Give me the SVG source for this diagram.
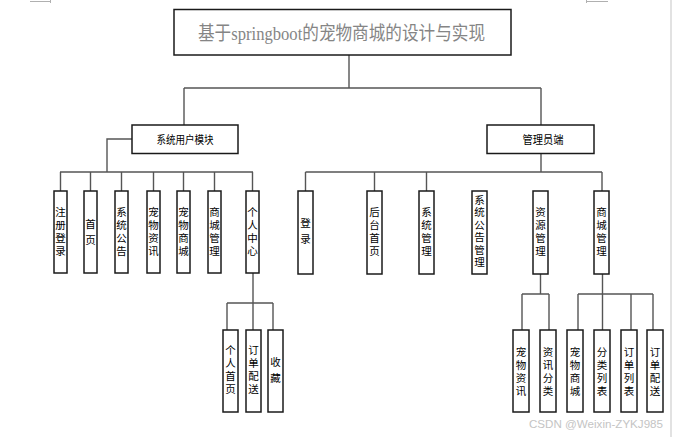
<svg xmlns="http://www.w3.org/2000/svg" width="673" height="437" viewBox="0 0 673 437">
<style>
.box{fill:#fff;stroke:#1a1a1a;stroke-width:1.5}
.ln{fill:none;stroke:#555;stroke-width:1.4}
.t{font-family:"Noto Sans CJK SC","Noto Sans",sans-serif;font-size:11px;fill:#000;text-anchor:middle}
.v{font-family:"Noto Sans CJK SC","Noto Sans",sans-serif;font-size:10.5px;fill:#000;text-anchor:middle;writing-mode:vertical-rl;letter-spacing:2.5px}
.v2{letter-spacing:5.5px}
.v6{letter-spacing:2px}
.title{font-family:"Liberation Serif","Noto Sans CJK SC",serif;font-size:19px;fill:#858585;text-anchor:middle}
.wm{font-family:"Liberation Sans","Noto Sans",sans-serif;font-size:11.5px;fill:#c4c4c4}
.mark{stroke:#b0b0b0;stroke-width:1;fill:none}
</style>
<rect width="673" height="437" fill="#fff"/>
<g id="page-marks">
<path class="mark" d="M30 1.5H51M50.5 0V3M586 1.5H608M586.5 0V3"/>
<line x1="671" y1="0" x2="671" y2="437" stroke="#e2e2e2" stroke-width="2"/>
</g>
<g id="connectors">
<path class="ln" d="M349 55V88M184 88H541M184 88V125M541 88V125"/>
<path class="ln" d="M132 139H107V172M60 172H253M60.5 172V191M90.5 172V191M121.5 172V191M153.5 172V191M183.5 172V191M214.5 172V191M252.5 172V191"/>
<path class="ln" d="M541 153V172M305.5 172H602M305.5 172V191M374.5 172V191M426.5 172V191M602 172V191"/>
<path class="ln" d="M253 273V330M227 303H273M227 303V330M273 303V330"/>
<path class="ln" d="M540.5 274V294M522 294H549M522 294V330M549 294V330"/>
<path class="ln" d="M602.5 274V330M578 294H653M578 294V330M631 294V330M653 294V330"/>
</g>
<g id="root">
<rect class="box" x="174" y="9.5" width="337" height="45.5"/>
<text class="title" x="341.5" y="39.5" textLength="287" lengthAdjust="spacingAndGlyphs">基于springboot的宠物商城的设计与实现</text>
</g>
<g id="user-module">
<rect class="box" x="132" y="125" width="106" height="28.5"/>
<text class="t" x="185" y="143.5" textLength="57" lengthAdjust="spacingAndGlyphs">系统用户模块</text>
</g>
<g id="admin">
<rect class="box" x="487" y="125" width="107" height="28.5"/>
<text class="t" x="543" y="143.5" textLength="41" lengthAdjust="spacingAndGlyphs">管理员端</text>
</g>
<g id="u-register"><rect class="box" x="54" y="191" width="13" height="82"/><text class="v" x="60.5" y="233">注册登录</text></g>
<g id="u-home"><rect class="box" x="84" y="191" width="13" height="82"/><text class="v v2" x="90.5" y="235">首页</text></g>
<g id="u-notice"><rect class="box" x="115" y="191" width="13" height="82"/><text class="v" x="121.5" y="233">系统公告</text></g>
<g id="u-petinfo"><rect class="box" x="147" y="191" width="13" height="82"/><text class="v" x="153.5" y="233">宠物资讯</text></g>
<g id="u-petmall"><rect class="box" x="177" y="191" width="13" height="82"/><text class="v" x="183.5" y="233">宠物商城</text></g>
<g id="u-mallmgr"><rect class="box" x="208" y="191" width="13" height="82"/><text class="v" x="214.5" y="233">商城管理</text></g>
<g id="u-center"><rect class="box" x="246" y="191" width="13" height="82"/><text class="v" x="252.5" y="233">个人中心</text></g>
<g id="c-home"><rect class="box" x="223" y="330" width="15" height="82"/><text class="v" x="230.5" y="370.5">个人首页</text></g>
<g id="c-order"><rect class="box" x="246" y="330" width="15" height="82"/><text class="v" x="253.5" y="370.5">订单配送</text></g>
<g id="c-fav"><rect class="box" x="268" y="330" width="15" height="82"/><text class="v v2" x="275.5" y="373">收藏</text></g>
<g id="a-login"><rect class="box" x="298" y="191" width="15" height="83"/><text class="v v2" x="305.5" y="234">登录</text></g>
<g id="a-home"><rect class="box" x="367" y="191" width="15" height="83"/><text class="v" x="374.5" y="233">后台首页</text></g>
<g id="a-sys"><rect class="box" x="419" y="191" width="15" height="83"/><text class="v" x="426.5" y="233">系统管理</text></g>
<g id="a-notice"><rect class="box" x="472" y="191" width="15" height="83"/><text class="v v6" x="479.5" y="232">系统公告管理</text></g>
<g id="a-resource"><rect class="box" x="533" y="191" width="15" height="83"/><text class="v" x="540.5" y="233">资源管理</text></g>
<g id="a-mall"><rect class="box" x="594" y="191" width="15" height="83"/><text class="v" x="601.5" y="233">商城管理</text></g>
<g id="r-petinfo"><rect class="box" x="513" y="330" width="16" height="82"/><text class="v" x="521" y="372.5">宠物资讯</text></g>
<g id="r-infocat"><rect class="box" x="540" y="330" width="16" height="82"/><text class="v" x="548" y="372.5">资讯分类</text></g>
<g id="m-petmall"><rect class="box" x="567" y="330" width="16" height="82"/><text class="v" x="575" y="372.5">宠物商城</text></g>
<g id="m-catlist"><rect class="box" x="594" y="330" width="16" height="82"/><text class="v" x="602" y="372.5">分类列表</text></g>
<g id="m-orderlist"><rect class="box" x="621" y="330" width="16" height="82"/><text class="v" x="629" y="372.5">订单列表</text></g>
<g id="m-delivery"><rect class="box" x="647" y="330" width="16" height="82"/><text class="v" x="655" y="372.5">订单配送</text></g>
<text class="wm" x="529" y="428" textLength="134" lengthAdjust="spacingAndGlyphs">CSDN @Weixin-ZYKJ985</text>
</svg>
